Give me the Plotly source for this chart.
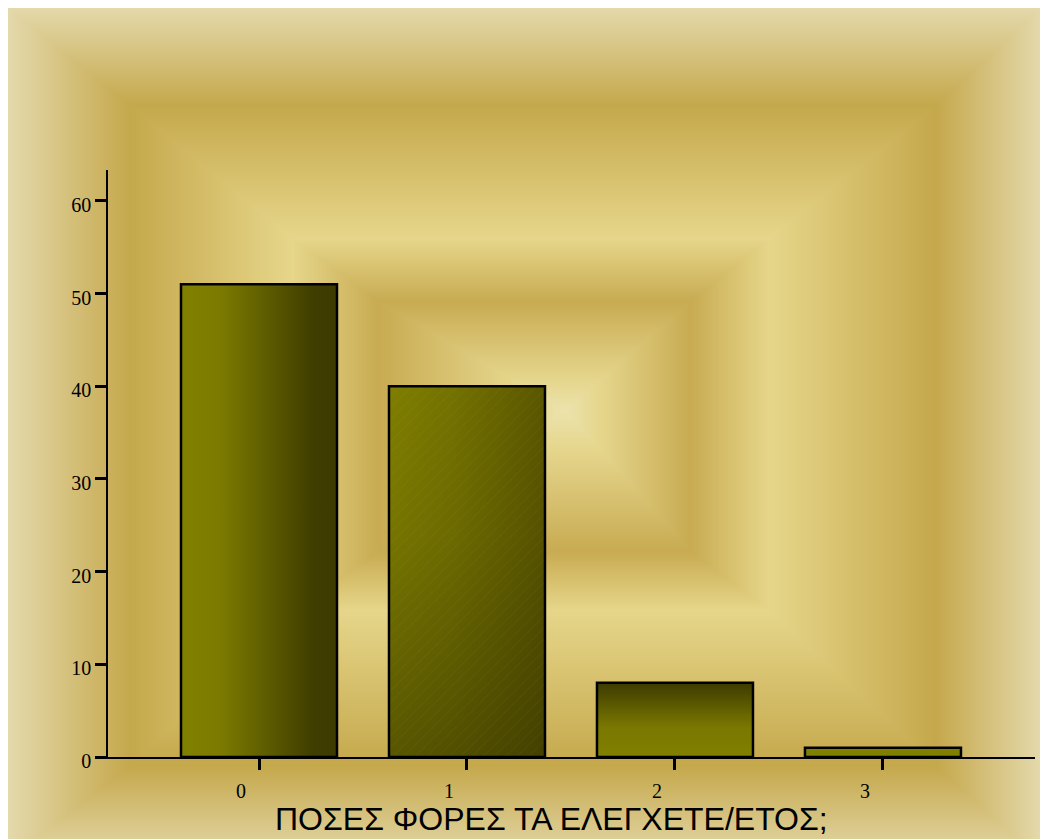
import base64
import struct
import zlib

import numpy as np
import plotly.graph_objects as go

# ---- data -------------------------------------------------------------
categories = ["0", "1", "2", "3"]
counts = [51, 40, 8, 1]
y_tick_values = [0, 10, 20, 30, 40, 50, 60]
x_title = "ΠΟΣΕΣ ΦΟΡΕΣ ΤΑ ΕΛΕΓΧΕΤΕ/ΕΤΟΣ;"

# ---- geometry ---------------------------------------------------------
W, H = 1040, 839
M_L, M_R, M_T, M_B = 108, 5, 170, 82
PLOT_W = W - M_L - M_R
PLOT_H = H - M_T - M_B
X_RANGE = [-0.726, 3.731]
Y_RANGE = [0, 63.34]
BAR_W = 0.75

OLIVE = "#808000"
DARK_OLIVE = "#3d3b00"


# ---- framed gold backdrop (rectangular multi-band gradient) -----------
def frame_backdrop():
    x0, y0 = 8, 8
    xs = np.arange(x0, W, dtype=float)
    ys = np.arange(y0, H, dtype=float)
    cx, cy = 565.0, 410.0
    dx = np.where(
        xs < cx,
        np.interp(xs, [8, 130, 292, 378, cx], [1.0, 0.77, 0.44, 0.27, 0.0]),
        np.interp(xs, [cx, 690, 769, 935, 1040], [0.0, 0.27, 0.44, 0.77, 1.0]),
    )
    dy = np.where(
        ys < cy,
        np.interp(ys, [8, 105, 238, 301, cy], [1.0, 0.77, 0.44, 0.27, 0.0]),
        np.interp(ys, [cy, 551, 610, 765, 839], [0.0, 0.27, 0.44, 0.77, 0.95]),
    )
    d = np.maximum(dx[None, :], dy[:, None])
    stops = [0.0, 0.07, 0.27, 0.44, 0.77, 1.0]
    cols = np.array([
        [236, 226, 172],
        [230, 215, 142],
        [200, 171, 82],
        [230, 214, 138],
        [197, 168, 76],
        [228, 217, 171],
    ], dtype=float)
    rgb = np.stack([np.interp(d, stops, cols[:, k]) for k in range(3)], axis=-1)
    return rgb.round().astype(np.uint8), x0, y0


def png_data_uri(rgb):
    h, w, _ = rgb.shape
    raw = b"".join(b"\x00" + rgb[r].tobytes() for r in range(h))

    def chunk(tag, data):
        return (struct.pack(">I", len(data)) + tag + data
                + struct.pack(">I", zlib.crc32(tag + data) & 0xFFFFFFFF))

    png = (b"\x89PNG\r\n\x1a\n"
           + chunk(b"IHDR", struct.pack(">IIBBBBB", w, h, 8, 2, 0, 0, 0))
           + chunk(b"IDAT", zlib.compress(raw, 9))
           + chunk(b"IEND", b""))
    return "data:image/png;base64," + base64.b64encode(png).decode()


bg, bg_x0, bg_y0 = frame_backdrop()

fig = go.Figure()

# ---- gradient bar bodies ----------------------------------------------
fills = [
    [dict(type="horizontal",
          colorscale=[[0, OLIVE], [0.25, "#7c7b00"], [0.85, "#3f3d00"], [1, DARK_OLIVE]])],
    [dict(type="horizontal",
          colorscale=[[0, "#7f7e00"], [0.4, "#747200"], [1, "#5a5600"]]),
     dict(type="vertical",
          colorscale=[[0, "rgba(40,38,0,0.45)"], [0.6, "rgba(40,38,0,0.1)"], [1, "rgba(40,38,0,0)"]])],
    [dict(type="vertical",
          colorscale=[[0, OLIVE], [0.4, "#7a7800"], [1, DARK_OLIVE]])],
    [None],
]

for i, (cat, v) in enumerate(zip(categories, counts)):
    xl, xr = i - BAR_W / 2, i + BAR_W / 2
    for g in fills[i]:
        kw = dict(fillgradient=g) if g else dict(fillcolor=OLIVE)
        fig.add_trace(go.Scatter(
            x=[xl, xr, xr, xl, xl], y=[0, 0, v, v, 0],
            mode="lines", fill="toself", line=dict(width=0),
            hoverinfo="skip", showlegend=False, **kw,
        ))

# ---- bar outlines (with faint hatch on the second bar) ----------------
fig.add_trace(go.Bar(
    x=list(range(len(categories))), y=counts, width=BAR_W,
    xaxis="x2", yaxis="y2",
    marker=dict(
        color="rgba(0,0,0,0)",
        line=dict(color="black", width=2.5),
        pattern=dict(shape=["", "/", "", ""], fillmode="overlay",
                     fgcolor="rgba(215,210,140,0.25)", size=8, solidity=0.06),
    ),
    hovertext=categories, showlegend=False,
))

fig.add_layout_image(dict(
    source=png_data_uri(bg),
    xref="paper", yref="paper",
    x=(bg_x0 - M_L) / PLOT_W, y=(H - M_B - bg_y0) / PLOT_H,
    sizex=bg.shape[1] / PLOT_W, sizey=bg.shape[0] / PLOT_H,
    xanchor="left", yanchor="top", sizing="stretch", layer="below",
))

fig.add_annotation(
    text=x_title, xref="paper", yref="paper",
    x=(551 - M_L) / PLOT_W, y=(H - M_B - 819) / PLOT_H,
    xanchor="center", yanchor="middle", showarrow=False,
    font=dict(family="Liberation Sans, Arial", size=32, color="black"),
)

tick_font = dict(family="Liberation Serif, Times New Roman", size=20, color="black")

fig.update_layout(
    width=W, height=H,
    margin=dict(l=M_L, r=M_R, t=M_T, b=M_B),
    paper_bgcolor="white", plot_bgcolor="rgba(0,0,0,0)",
    xaxis=dict(
        range=X_RANGE, tickvals=list(range(len(categories))), ticktext=categories,
        showgrid=False, zeroline=False, showline=True, linecolor="black", linewidth=2,
        ticks="outside", ticklen=11, tickwidth=3, tickcolor="black",
        tickfont=tick_font, ticklabelshift=-18, ticklabelstandoff=4,
    ),
    yaxis=dict(
        range=Y_RANGE, tickvals=y_tick_values,
        showgrid=False, zeroline=False, showline=True, linecolor="black", linewidth=1.5,
        ticks="outside", ticklen=11, tickwidth=3, tickcolor="black",
        tickfont=tick_font, ticklabelshift=4, ticklabelstandoff=0,
    ),
    xaxis2=dict(range=X_RANGE, overlaying="x", anchor="y2", visible=False),
    yaxis2=dict(range=Y_RANGE, overlaying="y", anchor="x2", visible=False),
)

fig.write_html("out.html")
